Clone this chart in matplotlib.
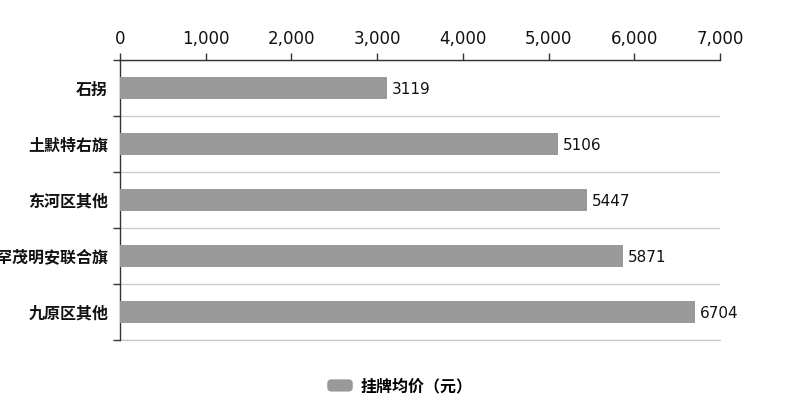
import matplotlib
matplotlib.use("Agg")
import matplotlib.pyplot as plt
from matplotlib.patches import Patch, FancyBboxPatch
from matplotlib.legend_handler import HandlerPatch
from matplotlib.ticker import FixedLocator
import numpy as np

plt.rcParams['font.family'] = ['DejaVu Sans', 'Noto Sans CJK SC']

# data
categories = ['石拐', '土默特右旗', '东河区其他', '达尔罕茂明安联合旗', '九原区其他']
values = [3119, 5106, 5447, 5871, 6704]
series_name = '挂牌均价（元）'
x_ticks = [0, 1000, 2000, 3000, 4000, 5000, 6000, 7000]

bar_color = '#999999'
cjk = ['Noto Sans CJK SC', 'DejaVu Sans']


class RoundHandler(HandlerPatch):
    def create_artists(self, legend, orig_handle, xdescent, ydescent,
                       width, height, fontsize, trans):
        p = FancyBboxPatch((-xdescent, -ydescent), width, height,
                           boxstyle='round,pad=0,rounding_size=3',
                           facecolor=orig_handle.get_facecolor(),
                           edgecolor='none', transform=trans)
        return [p]


fig = plt.figure(figsize=(8, 4), dpi=100)
ax = fig.add_axes([0.15, 0.15, 0.75, 0.70])

y = np.arange(len(categories))
bars = ax.barh(y, values, height=0.4, color=bar_color, zorder=3)

ax.set_xlim(0, 7000)
ax.set_ylim(len(categories) - 0.5, -0.5)

# x axis on top
ax.xaxis.tick_top()
ax.set_xticks(x_ticks)
ax.set_xticklabels(['{:,}'.format(t) for t in x_ticks], fontfamily='DejaVu Sans', fontsize=12)
ax.tick_params(axis='x', which='major', length=5, width=1, color='#333333',
               pad=4, labelcolor='#111111')

# y axis: labels at centers, ticks at boundaries
ax.set_yticks(y)
ax.set_yticklabels(categories, fontfamily=cjk, fontweight='bold', fontsize=11.5)
ax.tick_params(axis='y', which='major', length=0, pad=8.5, labelcolor='#111111')
bounds = np.arange(len(categories) + 1) - 0.5
ax.yaxis.set_minor_locator(FixedLocator(bounds))
ax.tick_params(axis='y', which='minor', length=5, width=1, color='#333333')
ax.grid(axis='y', which='minor', color='#cccccc', linewidth=1, zorder=0)
ax.grid(axis='y', which='major', visible=False)
ax.axhline(bounds[-1], color='#cccccc', linewidth=1, clip_on=False, zorder=0)

for s in ['right', 'bottom']:
    ax.spines[s].set_visible(False)
for s in ['top', 'left']:
    ax.spines[s].set_color('#333333')
    ax.spines[s].set_linewidth(1)

for b, v in zip(bars, values):
    ax.annotate(str(v), (v, b.get_y() + b.get_height() / 2),
                xytext=(3.5, -1), textcoords='offset points', fontfamily='DejaVu Sans',
                ha='left', va='center', fontsize=11, color='#111111', zorder=4)

handle = Patch(facecolor=bar_color, label=series_name)
fig.legend(handles=[handle], loc='center', bbox_to_anchor=(0.5, 0.035),
           frameon=False, handler_map={Patch: RoundHandler()},
           handlelength=1.6, handleheight=0.8, handletextpad=0.5,
           prop={'family': cjk, 'weight': 'bold', 'size': 11.5})

fig.savefig('out.png', dpi=100)
